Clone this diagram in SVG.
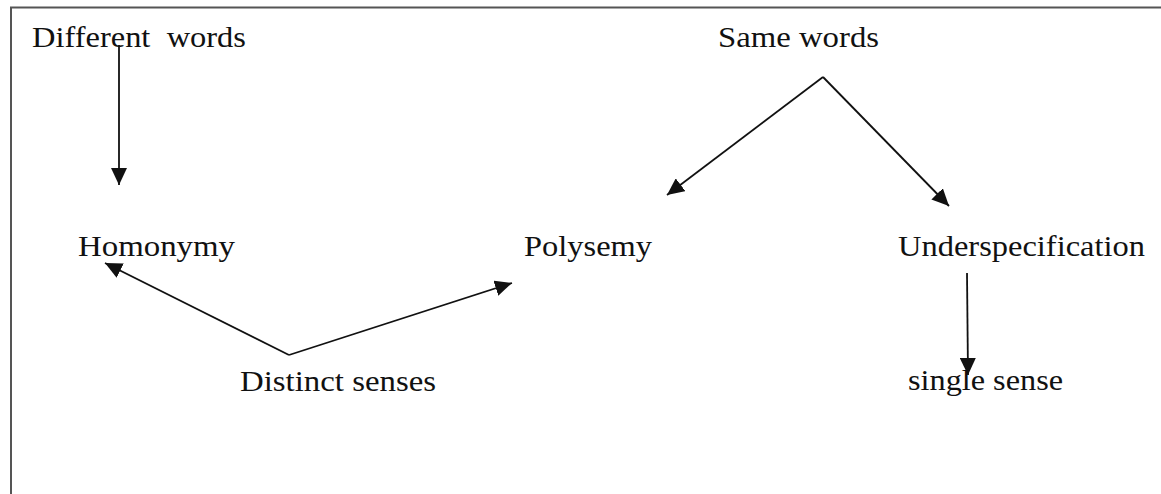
<svg xmlns="http://www.w3.org/2000/svg" width="1161" height="494" viewBox="0 0 1161 494">
<style>
.t{font-family:"Liberation Serif","Times New Roman",serif;font-size:30px;fill:#111}
.c{stroke:#111;stroke-width:1.8;fill:none}
.frame{stroke:#555;stroke-width:2;fill:none}
</style>
<defs>
<marker id="ah" markerUnits="userSpaceOnUse" markerWidth="18" markerHeight="16" viewBox="0 0 18 16" refX="17" refY="8" orient="auto">
<path d="M0,0 L17,8 L0,16 Z" fill="#111"/>
</marker>
</defs>
<rect width="1161" height="494" fill="#fff"/>
<path class="frame" d="M11,494 V7.5 H1161"/>
<g id="connectors">
<line class="c" x1="119" y1="45" x2="119" y2="185" marker-end="url(#ah)"/>
<line class="c" x1="823" y1="77" x2="667" y2="195" marker-end="url(#ah)"/>
<line class="c" x1="823" y1="77" x2="949" y2="206" marker-end="url(#ah)"/>
<line class="c" x1="289" y1="355" x2="105" y2="263" marker-end="url(#ah)"/>
<line class="c" x1="289" y1="355" x2="512" y2="283" marker-end="url(#ah)"/>
<line class="c" x1="967" y1="273" x2="968" y2="375" marker-end="url(#ah)"/>
</g>
<g id="different-words"><text class="t" x="32" y="47" textLength="214" lengthAdjust="spacingAndGlyphs" xml:space="preserve">Different  words</text></g>
<g id="same-words"><text class="t" x="718" y="47" textLength="161" lengthAdjust="spacingAndGlyphs">Same words</text></g>
<g id="homonymy"><text class="t" x="78" y="256" textLength="157" lengthAdjust="spacingAndGlyphs">Homonymy</text></g>
<g id="polysemy"><text class="t" x="524" y="256" textLength="128" lengthAdjust="spacingAndGlyphs">Polysemy</text></g>
<g id="underspecification"><text class="t" x="898" y="256" textLength="247" lengthAdjust="spacingAndGlyphs">Underspecification</text></g>
<g id="distinct-senses"><text class="t" x="240" y="391" textLength="196" lengthAdjust="spacingAndGlyphs">Distinct senses</text></g>
<g id="single-sense"><text class="t" x="908" y="390" textLength="155" lengthAdjust="spacingAndGlyphs">single sense</text></g>
</svg>
